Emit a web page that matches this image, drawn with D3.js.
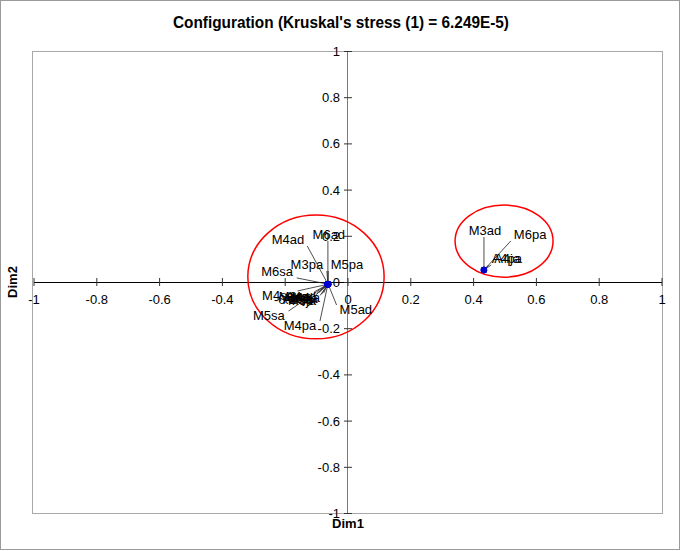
<!DOCTYPE html>
<html>
<head>
<meta charset="utf-8">
<script src="https://cdn.jsdelivr.net/npm/d3@7"></script>
<style>
  body { margin: 0; background: #fff; }
  svg text { font-family: "Liberation Sans", Arial, sans-serif; }
</style>
</head>
<body>
<div id="chart"></div>
<script>
// observations (MDS configuration)
const names = ["M4ad", "M6ad", "M3pa", "M5pa", "M6sa", "M4sa", "M3sa", "A4sa", "A4ad", "M3ja", "M4ja", "M5ja", "M6ja", "M5sa", "M4pa", "M5ad",
               "M3ad", "M6pa", "A4pa", "A4ja"];
const dim1 = [-0.064, -0.064, -0.064, -0.063, -0.065, -0.065, -0.064, -0.065, -0.064, -0.063, -0.065, -0.064, -0.064, -0.065, -0.064, -0.063,
              0.433, 0.433, 0.433, 0.433];
const dim2 = [-0.009, -0.008, -0.009, -0.009, -0.009, -0.010, -0.010, -0.009, -0.010, -0.010, -0.009, -0.010, -0.009, -0.010, -0.010, -0.010,
              0.052, 0.052, 0.052, 0.052];
// label centres, read in chart units
const labelX = [-0.191, -0.061, -0.131, -0.003, -0.226, -0.223, -0.170, -0.160, -0.150, -0.141, -0.134, -0.146, -0.157, -0.252, -0.153, 0.025,
                0.436, 0.580, 0.506, 0.507];
const labelY = [0.186, 0.208, 0.078, 0.078, 0.048, -0.056, -0.060, -0.072, -0.062, -0.070, -0.064, -0.076, -0.068, -0.143, -0.186, -0.117,
                0.225, 0.208, 0.104, 0.104];

// ellipses drawn round the two groups
const groupCx = [-0.102, 0.497];
const groupCy = [0.022, 0.177];
const groupRx = [0.217, 0.156];
const groupRy = [0.268, 0.156];

const ticks = d3.range(-1, 1.0001, 0.2).map(v => Math.round(v * 10) / 10);

const width = 681, height = 551;
const margin = { left: 34, right: 19, top: 51, bottom: 38 };

const svg = d3.select("#chart").append("svg")
  .attr("width", width)
  .attr("height", height);

svg.append("rect")
  .attr("x", 0.5).attr("y", 0.5)
  .attr("width", width - 2).attr("height", height - 2)
  .attr("fill", "#fff").attr("stroke", "#9a9a9a");

const x = d3.scaleLinear().domain([-1, 1]).range([margin.left, width - margin.right]);
const y = d3.scaleLinear().domain([-1, 1]).range([height - margin.bottom, margin.top]);

// plot frame
svg.append("rect")
  .attr("x", x(-1) - 1.5).attr("y", y(1) + 0.5)
  .attr("width", x(1) - x(-1) + 2).attr("height", y(-1) - y(1))
  .attr("fill", "none").attr("stroke", "#a8a8a8");

svg.append("text")
  .attr("x", 341).attr("y", 28)
  .attr("text-anchor", "middle")
  .attr("textLength", 336)
  .attr("lengthAdjust", "spacingAndGlyphs")
  .style("font-weight", "bold").style("font-size", "17px")
  .text("Configuration (Kruskal's stress (1) = 6.249E-5)");

// vertical axis (Dim2)
svg.append("line")
  .attr("x1", x(0) - 0.5).attr("x2", x(0) - 0.5)
  .attr("y1", y(1)).attr("y2", y(-1))
  .attr("stroke", "#7a7a7a");

// horizontal axis (Dim1)
svg.append("line")
  .attr("x1", x(-1)).attr("x2", x(1))
  .attr("y1", y(0) + 0.5).attr("y2", y(0) + 0.5)
  .attr("stroke", "#000");

const xt = svg.append("g").selectAll("g").data(ticks).join("g");
xt.append("line")
  .attr("x1", d => x(d)).attr("x2", d => x(d))
  .attr("y1", y(0) - 4).attr("y2", y(0) + 4)
  .attr("stroke", "#333");
xt.append("text")
  .attr("x", d => x(d)).attr("y", y(0) + 22)
  .attr("text-anchor", "middle")
  .style("font-size", "13px")
  .text(d => d);

const yt = svg.append("g").selectAll("g").data(ticks).join("g");
yt.append("line")
  .attr("x1", x(0) - 4).attr("x2", x(0) + 4)
  .attr("y1", d => y(d) + 0.5).attr("y2", d => y(d) + 0.5)
  .attr("stroke", "#333");
yt.append("text")
  .attr("x", x(0) - 8).attr("y", d => y(d) + 5)
  .attr("text-anchor", "end")
  .style("font-size", "13px")
  .text(d => d);

svg.append("text")
  .attr("x", x(0)).attr("y", y(-1) + 15)
  .attr("text-anchor", "middle")
  .style("font-weight", "bold").style("font-size", "13px")
  .text("Dim1");

svg.append("text")
  .attr("transform", `translate(17, ${y(0)}) rotate(-90)`)
  .attr("text-anchor", "middle")
  .style("font-weight", "bold").style("font-size", "13px")
  .text("Dim2");

// group ellipses
svg.append("g").selectAll("ellipse")
  .data(groupCx)
  .join("ellipse")
  .attr("cx", d => x(d))
  .attr("cy", (d, i) => y(groupCy[i]))
  .attr("rx", (d, i) => x(groupRx[i]) - x(0))
  .attr("ry", (d, i) => y(0) - y(groupRy[i]))
  .attr("fill", "none")
  .attr("stroke", "#ff0000")
  .attr("stroke-width", 1.5);

// labels + leader lines
const pts = names.map((n, i) => ({ name: n, x: dim1[i], y: dim2[i], lx: labelX[i], ly: labelY[i] }));

const leaders = svg.append("g");
const labels = svg.append("g").selectAll("text")
  .data(pts)
  .join("text")
  .attr("x", d => x(d.lx))
  .attr("y", d => y(d.ly) + 5)
  .attr("text-anchor", "middle")
  .style("font-size", "13px")
  .attr("fill", "#000")
  .text(d => d.name);

labels.each(function (d) {
  const b = this.getBBox();
  const px = x(d.x), py = y(d.y);
  const cx = Math.max(b.x - 3, Math.min(px, b.x + b.width + 3));
  const cy = Math.max(b.y + 3, Math.min(py, b.y + b.height - 1));
  leaders.append("line")
    .attr("x1", px).attr("y1", py)
    .attr("x2", cx).attr("y2", cy)
    .attr("stroke", "#222").attr("stroke-width", 0.8);
});

svg.append("g").selectAll("circle")
  .data(pts)
  .join("circle")
  .attr("cx", d => x(d.x))
  .attr("cy", d => y(d.y))
  .attr("r", 3.2)
  .attr("fill", "#0000cc");
</script>
</body>
</html>
